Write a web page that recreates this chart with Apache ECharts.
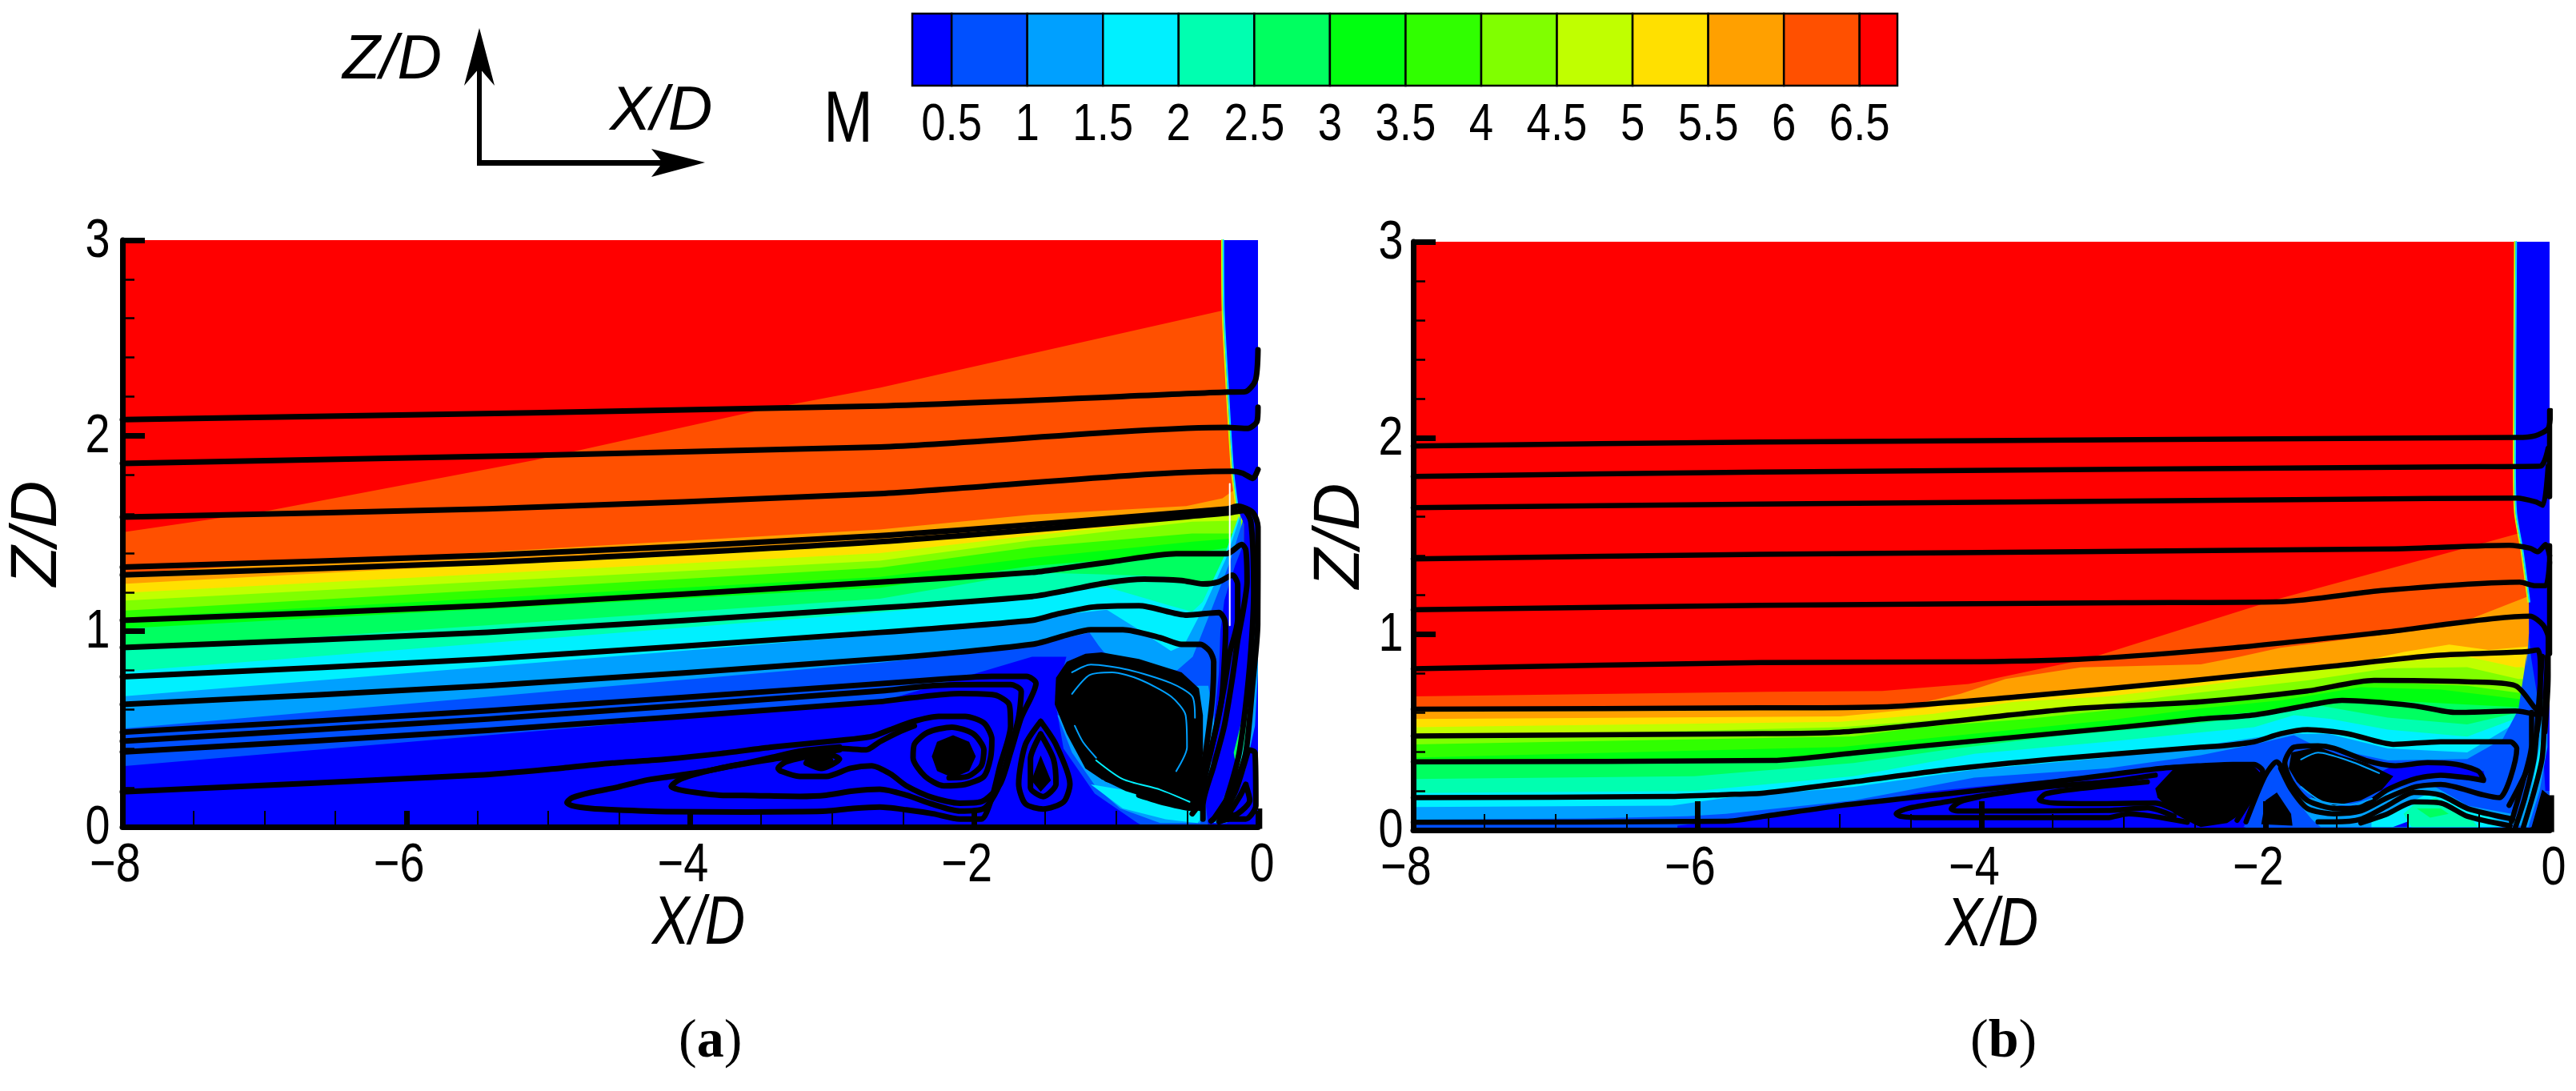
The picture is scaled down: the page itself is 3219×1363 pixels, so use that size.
<!DOCTYPE html>
<html>
<head>
<meta charset="utf-8">
<script src="https://cdn.jsdelivr.net/npm/echarts@6/dist/echarts.min.js"></script>
<style>
html, body { margin: 0; background: #fff; }
#main { width: 3219px; height: 1363px; }
</style>
</head>
<body>
<div id="main"></div>
<script>
// tick labels
var xTicks = [-8, -6, -4, -2, 0];
var zTicks = [0, 1, 2, 3];

// colour bar
var cbarEdges = [0.24, 0.5, 1, 1.5, 2, 2.5, 3, 3.5, 4, 4.5, 5, 5.5, 6, 6.5, 6.75];
var cbarTicks = [0.5, 1, 1.5, 2, 2.5, 3, 3.5, 4, 4.5, 5, 5.5, 6, 6.5];
var cbarColors = ['#0000ff', '#0050ff', '#00a0ff', '#00f0ff', '#00ffb0', '#00ff60', '#00ff10',
                  '#30ff00', '#80ff00', '#c0ff00', '#ffe000', '#ffa000', '#ff5000', '#ff0000'];

// panel (a): Mach contours [x/D, z/D], highest first
var aM65 = [[-8,1.506],[-7.01,1.612],[-5.1,1.874],[-3.52,2.128],[-2.66,2.246],[-0.25,2.64],[-0.1,2.64]];
var aM60 = [[-8,1.297],[-2.665,1.52],[-1.592,1.596],[-0.505,1.64],[-0.25,1.68],[-0.18,1.717],[-0.1,1.717]];
var aM55 = [[-8,1.242],[-2.665,1.45],[-1.592,1.526],[-0.5,1.6],[-0.16,1.625],[-0.1,1.625]];
var aM50 = [[-8,1.196],[-2.665,1.4],[-1.592,1.49],[-0.5,1.575],[-0.15,1.6],[-0.1,1.6]];
var aM45 = [[-8,1.156],[-2.665,1.361],[-1.592,1.465],[-0.463,1.56],[-0.16,1.565],[-0.1,1.565]];
var aM40 = [[-8,1.105],[-2.665,1.325],[-1.592,1.43],[-0.463,1.5],[-0.1,1.5]];
var aM35 = [[-8,1.068],[-2.665,1.278],[-1.592,1.375],[-0.463,1.458],[-0.1,1.48]];
var aM30 = [[-8,1.014],[-2.665,1.223],[-1.592,1.334],[-0.463,1.4],[-0.1,1.44]];
var aM25 = [[-8,0.904],[-2.665,1.166],[-1.592,1.3],[-1.06,1.29],[-0.65,1.28],[-0.37,1.24],[-0.1,1.24]];
var aM20 = [[-8,0.794],[-2.665,1.097],[-1.592,1.17],[-1.31,1.21],[-1.065,1.226],[-0.8,1.17],[-0.613,1.13],[-0.463,1.1],[-0.39,1.15],[-0.24,1.38],[-0.135,1.59]];
var aM15 = [[-8,0.667],[-2.665,0.982],[-1.592,1.068],[-1.065,1.11],[-0.839,1.008],[-0.613,0.899],[-0.52,0.93],[-0.37,1.14],[-0.22,1.38],[-0.12,1.6]];
var aM10 = [[-8,0.502],[-2.665,0.839],[-1.592,0.926],[-1.187,0.994],[-1.122,0.926],[-1.084,0.892],[-0.85,0.83],[-0.57,0.8],[-0.46,0.87],[-0.35,1.07],[-0.2,1.35],[-0.1,1.58]];
var aM05 = [[-8,0.31],[-2.665,0.638],[-1.592,0.87],[-1.35,0.87],[-1.43,0.65],[-1.37,0.4],[-1.15,0.17],[-0.85,0.02],[-0.8,0]];
var aShock = [[-0.248,3],[0,3],[0,1.55],[-0.1,1.55],[-0.14,1.62],[-0.18,1.827],[-0.216,2.247],[-0.245,2.64]];
var aWall = [[0,1.601],[-0.1,1.6],[-0.1,1.45],[-0.162,1.335],[-0.237,1.158],[-0.265,1],[-0.275,0.79],[-0.312,0.517],[-0.388,0.244],[-0.35,0],[0,0]];
var aCres15 = [[-1.413,0.571],[-1.31,0.38],[-1.14,0.203],[-0.971,0.094],[-0.689,0.019],[-0.406,0.019],[-0.34,0.244],[-0.303,0.517],[-0.35,0.721],[-0.425,0.721],[-1.027,0.517]];
var aCres20 = [[-1.178,0.217],[-0.952,0.094],[-0.651,0.039],[-0.425,0.019],[-0.369,0.08],[-0.463,0.094],[-0.839,0.176]];
var aJet15 = [[-0.312,0.019],[-0.19,0.244],[-0.096,0.544],[-0.049,0.844],[-0.026,1.035],[0,1.035],[0,0.79],[-0.021,0.517],[-0.086,0.299],[-0.218,0.019]];
var aJet20 = [[-0.284,0.019],[-0.18,0.23],[-0.096,0.517],[-0.039,0.844],[-0.021,0.721],[-0.058,0.462],[-0.133,0.258],[-0.237,0.019]];
var aJet25 = [[-0.265,0.026],[-0.162,0.258],[-0.086,0.517],[-0.039,0.762],[-0.064,0.517],[-0.133,0.312],[-0.246,0.026]];
var aJet30 = [[-0.171,0.38],[-0.124,0.517],[-0.096,0.626],[-0.105,0.517],[-0.162,0.34]];
var aCoreBig = [[-1.103,0.892],[-0.839,0.858],[-0.538,0.79],[-0.416,0.708],[-0.388,0.571],[-0.388,0.38],[-0.416,0.176],[-0.463,0.094],[-0.651,0.121],[-0.933,0.183],[-1.103,0.244],[-1.216,0.299],[-1.347,0.476],[-1.432,0.626],[-1.423,0.762],[-1.347,0.844],[-1.216,0.885]];
var aCoreMid = [[-2.148,0.469],[-2.035,0.435],[-1.988,0.36],[-2.035,0.285],[-2.148,0.251],[-2.261,0.285],[-2.298,0.36],[-2.261,0.435]];
var aCoreTear = [[-1.531,0.365],[-1.459,0.237],[-1.531,0.179],[-1.596,0.237]];
var aCoreSmall = [[-3.192,0.347],[-3.117,0.374],[-3.004,0.367],[-2.985,0.326],[-3.098,0.306],[-3.174,0.319]];
var aCorner = [[0,0.094],[0.03,0.094],[0.03,-0.01],[0,-0.01]];

// panel (a): streamlines
var aS1 = [[-8,2.082],[-2.665,2.152],[-0.216,2.223],[-0.09,2.225],[-0.018,2.283],[0,2.439]];
var aS2 = [[-8,1.858],[-2.665,1.942],[-0.216,2.042],[-0.072,2.037],[-0.007,2.073],[0,2.146]];
var aS3 = [[-8,1.584],[-5.43,1.626],[-2.665,1.704],[-0.18,1.818],[-0.108,1.808],[-0.036,1.781],[0,1.827]];
var aS4 = [[-8,1.328],[-5.43,1.388],[-2.665,1.489],[-0.216,1.626],[-0.144,1.64],[-0.036,1.607],[0,1.534],[-0.002,1.035],[-0.039,0.721],[-0.086,0.38],[-0.162,0.217],[-0.237,0.121],[-0.312,0.04]];
var aS5 = [[-8,1.288],[-5.43,1.352],[-2.665,1.458],[-0.216,1.604],[-0.1,1.618],[-0.05,1.56],[-0.03,1.2],[-0.05,0.9],[-0.09,0.6],[-0.14,0.35],[-0.25,0.09],[-0.33,0.03]];
var aS6 = [[-8,1.056],[-5.43,1.132],[-2.665,1.251],[-1.592,1.301],[-1.366,1.322],[-1.027,1.356],[-0.576,1.397],[-0.218,1.397],[-0.115,1.444],[-0.086,1.417],[-0.077,1.253],[-0.105,1.103],[-0.143,0.953],[-0.18,0.762],[-0.237,0.517],[-0.312,0.312],[-0.388,0.108],[-0.388,0.04]];
var aS7 = [[-8,0.917],[-5.43,0.995],[-2.665,1.12],[-1.592,1.178],[-1.366,1.206],[-1.046,1.25],[-0.802,1.267],[-0.538,1.26],[-0.388,1.242],[-0.275,1.253],[-0.18,1.287],[-0.143,1.24],[-0.143,1.062],[-0.2,0.885],[-0.237,0.721],[-0.293,0.517],[-0.369,0.271],[-0.425,0.108],[-0.463,0.067]];
var aS8 = [[-8,0.767],[-5.43,0.858],[-2.665,0.994],[-1.592,1.056],[-1.404,1.09],[-1.159,1.124],[-0.839,1.131],[-0.5,1.083],[-0.275,1.096],[-0.237,1.062],[-0.228,1.008],[-0.237,0.844],[-0.256,0.653],[-0.312,0.449],[-0.388,0.244],[-0.463,0.094],[-0.651,0.121],[-0.839,0.162]];
var aS9 = [[-8,0.626],[-5.43,0.721],[-2.665,0.858],[-1.592,0.933],[-1.347,0.981],[-1.178,1.008],[-0.952,1.008],[-0.689,0.967],[-0.538,0.933],[-0.406,0.933],[-0.34,0.899],[-0.312,0.844],[-0.322,0.653],[-0.369,0.38],[-0.416,0.176],[-0.397,0.094],[-0.538,0.114],[-0.839,0.19],[-1.065,0.244]];
var aS10 = [[-8,0.484],[-5.43,0.593],[-2.741,0.728],[-2.477,0.742],[-2.214,0.756],[-1.875,0.769],[-1.63,0.769],[-1.564,0.735],[-1.668,0.558],[-1.743,0.381],[-1.818,0.217],[-1.95,0.128],[-2.101,0.121],[-2.289,0.149],[-2.477,0.21],[-2.59,0.271],[-2.722,0.312],[-2.872,0.299],[-3.042,0.258],[-3.23,0.258],[-3.362,0.285],[-3.381,0.299],[-3.325,0.333],[-3.137,0.367],[-2.948,0.401],[-2.76,0.394],[-2.665,0.435],[-2.515,0.49],[-2.421,0.517]];
var aS11 = [[-8,0.438],[-5.43,0.551],[-2.628,0.697],[-2.289,0.722],[-1.95,0.728],[-1.743,0.728],[-1.668,0.694],[-1.687,0.558],[-1.762,0.353],[-1.837,0.19],[-1.931,0.094],[-2.101,0.081],[-2.289,0.115],[-2.477,0.162],[-2.665,0.192],[-2.854,0.183],[-3.042,0.162],[-3.23,0.156],[-3.551,0.16],[-3.795,0.162],[-3.965,0.176],[-4.078,0.19],[-4.134,0.206],[-4.087,0.237],[-3.983,0.265],[-3.795,0.299],[-3.607,0.326],[-3.419,0.356],[-3.23,0.387],[-2.948,0.408]];
var aS12 = [[-8,0.383],[-5.43,0.493],[-2.665,0.64],[-2.44,0.66],[-2.101,0.681],[-1.856,0.674],[-1.753,0.626],[-1.743,0.517],[-1.818,0.312],[-1.875,0.149],[-1.95,0.04],[-2.101,0.04],[-2.289,0.067],[-2.477,0.087],[-2.665,0.101],[-2.854,0.094],[-3.042,0.081],[-3.23,0.078],[-3.607,0.076],[-4.172,0.078],[-4.529,0.087],[-4.699,0.094],[-4.83,0.108],[-4.868,0.124],[-4.83,0.149],[-4.699,0.176],[-4.51,0.203],[-4.322,0.237],[-4.134,0.258],[-3.889,0.285],[-3.701,0.312],[-3.419,0.346],[-3.137,0.374],[-2.948,0.394]];
var aS13 = [[-8,0.179],[-5.489,0.265],[-4.924,0.299],[-4.548,0.326],[-4.172,0.346],[-3.795,0.374],[-3.419,0.408],[-2.948,0.442],[-2.722,0.462],[-2.59,0.497],[-2.44,0.537],[-2.251,0.565],[-2.063,0.565],[-1.931,0.531],[-1.875,0.449],[-1.884,0.353],[-1.931,0.258],[-2.063,0.217],[-2.214,0.21],[-2.345,0.258],[-2.43,0.353],[-2.421,0.422],[-2.327,0.483],[-2.157,0.51],[-2.007,0.476],[-1.931,0.394],[-1.95,0.312],[-2.044,0.258],[-2.176,0.251]];
var aTearOuter = [[-1.531,0.539],[-1.423,0.42],[-1.325,0.219],[-1.369,0.128],[-1.513,0.091],[-1.639,0.118],[-1.686,0.219],[-1.639,0.42],[-1.531,0.539]];
var aTearInner = [[-1.531,0.475],[-1.441,0.347],[-1.423,0.219],[-1.513,0.155],[-1.603,0.201],[-1.603,0.347],[-1.531,0.475]];
var aSmallRing = [[-3.183,0.326],[-3.079,0.299],[-2.948,0.347],[-3.042,0.374],[-3.155,0.353],[-3.183,0.326]];
var aCornerOuter = [[-0.068,0.394],[-0.021,0.38],[-0.015,0.108],[-0.086,0.04],[-0.199,0.04],[-0.275,0.026],[-0.162,0.176],[-0.068,0.394]];
var aCornerInner = [[-0.086,0.217],[-0.058,0.135],[-0.143,0.067],[-0.218,0.053],[-0.124,0.162],[-0.086,0.217]];
// thin coloured gaps between the packed rings of the big vortex, and the seam in the picture
var aGap1 = [[-1.31,0.68],[-1.187,0.776],[-1.027,0.79],[-0.839,0.755],[-0.613,0.667],[-0.51,0.571],[-0.5,0.408],[-0.576,0.285]];
var aGap2 = [[-1.31,0.79],[-1.178,0.83],[-0.914,0.803],[-0.613,0.735],[-0.463,0.667],[-0.444,0.558]];
var aGap3 = [[-1.14,0.34],[-0.952,0.244],[-0.689,0.19],[-0.482,0.128]];
var aGap4 = [[-1.291,0.517],[-1.234,0.435],[-1.14,0.353]];
var aSeam = [[-0.199,1.754],[-0.199,1.03]];
var aShockA = [[-0.254,3],[-0.25,2.64],[-0.222,2.247],[-0.186,1.827],[-0.15,1.62]];
var aShockB = [[-0.244,3],[-0.24,2.64],[-0.211,2.247],[-0.175,1.827],[-0.14,1.62]];

// panel (b): Mach contours
var bM65 = [[-8,0.682],[-5.5,0.705],[-4.7,0.709],[-4.09,0.745],[-3.25,0.873],[-1.895,1.182],[-0.687,1.419],[-0.23,1.51],[-0.14,1.51]];
var bM60 = [[-8,0.607],[-4.992,0.614],[-4.43,0.648],[-4.147,0.695],[-3.83,0.77],[-3.3,0.83],[-2.456,0.845],[-2.17,0.886],[-1.895,0.93],[-0.687,1.04],[-0.157,1.19],[-0.1,1.19]];
var bM55 = [[-8,0.566],[-4.992,0.58],[-4.43,0.62],[-3.79,0.682],[-3.114,0.725],[-2.457,0.77],[-1.53,0.827],[-1.02,0.909],[-0.706,0.946],[-0.43,0.918],[-0.155,0.936]];
var bM50 = [[-8,0.525],[-4.992,0.552],[-4.335,0.593],[-3.77,0.654],[-3.114,0.682],[-2.457,0.736],[-1.705,0.811],[-0.954,0.865],[-0.58,0.885],[-0.24,0.831],[-0.18,0.831]];
var bM45 = [[-8,0.471],[-4.992,0.525],[-4.24,0.566],[-3.3,0.627],[-2.457,0.702],[-1.705,0.763],[-1.14,0.825],[-0.58,0.831],[-0.22,0.77],[-0.18,0.77]];
var bM40 = [[-8,0.437],[-4.9,0.478],[-4.43,0.525],[-3.68,0.566],[-2.457,0.661],[-1.705,0.709],[-1.235,0.756],[-0.58,0.736],[-0.22,0.7],[-0.18,0.7]];
var bM35 = [[-8,0.369],[-4.992,0.423],[-4.24,0.478],[-3.114,0.559],[-2.457,0.62],[-1.893,0.661],[-1.33,0.729],[-0.766,0.716],[-0.22,0.668],[-0.18,0.668]];
var bM30 = [[-8,0.335],[-5.47,0.362],[-4.9,0.382],[-4.05,0.464],[-3.114,0.525],[-2.457,0.58],[-1.893,0.613],[-1.48,0.668],[-0.954,0.654],[-0.22,0.627],[-0.18,0.627]];
var bM25 = [[-8,0.26],[-6.02,0.274],[-4.9,0.342],[-4.24,0.41],[-3.49,0.478],[-2.457,0.546],[-2.08,0.58],[-1.61,0.634],[-1.14,0.573],[-0.58,0.539],[-0.22,0.6],[-0.18,0.64]];
var bM20 = [[-8,0.189],[-6.02,0.199],[-4.9,0.274],[-4.05,0.389],[-3.114,0.45],[-2.457,0.498],[-2.08,0.525],[-1.8,0.586],[-1.54,0.566],[-1.14,0.512],[-0.58,0.477],[-0.22,0.573],[-0.17,0.7]];
var bM15 = [[-8,0.117],[-6.18,0.124],[-5.79,0.165],[-4.9,0.22],[-4.05,0.308],[-3.114,0.369],[-2.457,0.43],[-1.893,0.491],[-1.555,0.491],[-1.14,0.416],[-0.58,0.396],[-0.3,0.518],[-0.2,0.573],[-0.165,0.8]];
var bM10 = [[-8,0.053],[-6.79,0.059],[-6.07,0.07],[-5.8,0.083],[-4.9,0.151],[-4.05,0.267],[-3.114,0.314],[-2.457,0.382],[-2.08,0.437],[-1.8,0.484],[-1.67,0.437],[-1.14,0.355],[-0.58,0.362],[-0.33,0.464],[-0.22,0.614],[-0.16,0.9]];
var bM05 = [[-6.14,0.022],[-5.98,0.036],[-5.53,0.07],[-4.9,0.124],[-4.43,0.192],[-3.68,0.246],[-2.83,0.301],[-2.457,0.335],[-2.23,0.342],[-2.06,0.342],[-2.02,0.28],[-2.1,0.1],[-2.15,0]];
var bWallBase = [[-0.26,0],[-0.2,0.55],[-0.155,0.9],[-0.146,1],[-0.1,1],[0,0.2],[0,0]];
var bShock = [[-0.24,3],[0,3],[0,0.2],[-0.03,0.2],[-0.05,0.45],[-0.09,0.7],[-0.13,0.88],[-0.145,0.98],[-0.146,1.164],[-0.193,1.419],[-0.24,1.62],[-0.248,1.893]];
var bTube05 = [[-1.329,0.246],[-1.104,0.328],[-0.86,0.348],[-0.465,0.301],[-0.447,0.246],[-0.672,0.26],[-0.86,0.274],[-1.066,0.219],[-1.235,0.192]];
var bWave15 = [[-1.836,0.151],[-1.611,0.015],[-0.259,0.015],[-0.268,0.083],[-0.578,0.124],[-0.803,0.219],[-0.954,0.233],[-1.141,0.192],[-1.423,0.11],[-1.667,0.165]];
var bWave20 = [[-1.254,0.056],[-1.028,0.124],[-0.841,0.192],[-0.578,0.11],[-0.334,0.043],[-0.334,0.015],[-1.254,0.015]];
var bWave25 = [[-1.028,0.083],[-0.954,0.131],[-0.803,0.165],[-0.578,0.083],[-0.503,0.015],[-0.972,0.015]];
var bWave30 = [[-0.935,0.11],[-0.766,0.11],[-0.71,0.083],[-0.841,0.063]];
var bPocket05 = [[-1.104,0.015],[-1,0.043],[-1,0.015]];
var bUnder10 = [[-1.911,0.274],[-1.799,0.165],[-1.63,0.015],[-2.156,0.015],[-2.024,0.151]];
var bJet15 = [[-0.259,0.029],[-0.155,0.206],[-0.09,0.423],[-0.052,0.668],[-0.015,0.668],[-0.015,0.423],[-0.07,0.2],[-0.15,0.015]];
var bJet20 = [[-0.2,0.015],[-0.127,0.206],[-0.071,0.423],[-0.033,0.6],[-0.015,0.587],[-0.033,0.423],[-0.088,0.22],[-0.165,0.042]];
var bCoreLeft = [[-2.776,0.212],[-2.644,0.314],[-2.456,0.335],[-2.23,0.335],[-2.08,0.325],[-2.03,0.287],[-2.08,0.192],[-2.17,0.083],[-2.27,0.036],[-2.456,0.015],[-2.49,0.026],[-2.64,0.083],[-2.76,0.165]];
var bCoreBig = [[-1.817,0.396],[-1.63,0.423],[-1.48,0.383],[-1.29,0.342],[-1.1,0.274],[-1.18,0.206],[-1.33,0.151],[-1.517,0.124],[-1.667,0.165],[-1.78,0.246],[-1.836,0.314]];
var bCoreLow = [[-2.03,0.03],[-2,0.151],[-1.92,0.192],[-1.82,0.083],[-1.81,0.022]];
var bCorner = [[-0.127,0.015],[-0.052,0.206],[-0.005,0.178],[0.032,0.178],[0.032,-0.01],[-0.24,-0.01]];

// panel (b): streamlines
var bS1 = [[-8,1.958],[-5.555,1.979],[-0.23,2.002],[-0.1,2.011],[-0.01,2.048],[0.008,2.139]];
var bS2 = [[-8,1.803],[-5.555,1.826],[-0.486,1.853],[-0.065,1.856],[-0.01,1.948]];
var bS3 = [[-8,1.644],[-5.555,1.662],[-1.456,1.687],[-0.23,1.693],[-0.1,1.674],[-0.047,1.656],[-0.01,1.856]];
var bS4 = [[-8,1.383],[-5.555,1.406],[-1.09,1.434],[-0.285,1.452],[-0.138,1.437],[-0.083,1.419],[-0.028,1.456],[0,1.4]];
var bS5 = [[-8,1.123],[-5.555,1.146],[-2.993,1.159],[-1.895,1.164],[-1.163,1.222],[-0.211,1.264],[-0.1,1.246],[-0.028,1.246],[0,1.365]];
var bS6 = [[-8,0.822],[-5.555,0.854],[-4.018,0.858],[-3.249,0.873],[-2.261,0.927],[-1.163,1.009],[-0.138,1.091],[-0.047,1.046],[-0.01,0.982],[-0.01,0.782],[-0.033,0.5]];
var bS7 = [[-8,0.616],[-5.555,0.623],[-4.64,0.63],[-3.725,0.681],[-2.627,0.754],[-1.53,0.836],[-0.797,0.891],[-0.175,0.909],[-0.083,0.918],[-0.065,0.836],[-0.065,0.65],[-0.138,0.344],[-0.285,0.126]];
var bS8 = [[-8,0.48],[-5.67,0.491],[-5,0.499],[-3.359,0.618],[-2.456,0.654],[-1.705,0.709],[-1.235,0.763],[-0.58,0.756],[-0.24,0.736],[-0.108,0.627],[-0.065,0.59]];
var bS9 = [[-8,0.348],[-5.47,0.355],[-4.9,0.393],[-4.457,0.426],[-2.993,0.526],[-2.456,0.566],[-2.08,0.587],[-1.61,0.648],[-1.46,0.661],[-0.954,0.634],[-0.67,0.6],[-0.24,0.607],[-0.102,0.59]];
var bS10 = [[-8,0.165],[-6.21,0.171],[-5.8,0.181],[-5.53,0.189],[-4.9,0.246],[-4.24,0.308],[-3.49,0.362],[-2.457,0.423],[-2.3,0.43],[-2.08,0.45],[-1.893,0.491],[-1.705,0.512],[-1.42,0.491],[-1.1,0.437],[-0.766,0.45],[-0.277,0.45],[-0.231,0.416],[-0.353,0.165],[-0.465,0.179],[-0.766,0.233],[-0.954,0.219],[-1.141,0.165],[-1.329,0.097],[-1.517,0.083],[-1.705,0.11],[-1.817,0.206],[-1.893,0.315]];
var bS11 = [[-8,0.04],[-5.8,0.045],[-5.53,0.07],[-4.992,0.125],[-4.24,0.185],[-3.49,0.246],[-2.74,0.314],[-2.457,0.328],[-2.23,0.335],[-2.08,0.335],[-2.02,0.3],[-2.08,0.192],[-2.2,0.05]];
var bTail1 = [[-2.55,0.04],[-2.964,0.083],[-3.114,0.063],[-4.429,0.063],[-4.57,0.07],[-4.6,0.083],[-4.52,0.11],[-4.24,0.145],[-4.015,0.172],[-3.546,0.22],[-3.114,0.246],[-2.776,0.28]];
var bTail2 = [[-2.644,0.07],[-2.83,0.113],[-3.114,0.1],[-4.166,0.097],[-4.213,0.108],[-4.147,0.145],[-4.015,0.169]];
var bTail3 = [[-2.588,0.083],[-2.776,0.138],[-3.114,0.135],[-3.49,0.138],[-3.593,0.154],[-3.546,0.185],[-3.302,0.212],[-2.832,0.246]];
var bRing = [[-0.465,0.26],[-0.503,0.301],[-0.653,0.335],[-0.86,0.344],[-1.085,0.328],[-1.292,0.355],[-1.517,0.417],[-1.63,0.43],[-1.799,0.423],[-1.864,0.342],[-1.817,0.246],[-1.705,0.151],[-1.498,0.11],[-1.329,0.117],[-1.141,0.206],[-0.954,0.26],[-0.766,0.28],[-0.578,0.267],[-0.465,0.253]];
var bWaveLine1 = [[-0.259,0.056],[-0.578,0.11],[-0.766,0.178],[-0.954,0.192],[-1.141,0.124],[-1.329,0.056],[-1.517,0.042],[-1.63,0.042]];
var bWaveLine2 = [[-0.278,0.022],[-0.578,0.07],[-0.766,0.138],[-0.954,0.144],[-1.141,0.083],[-1.329,0.036]];
var bPeak = [[-2.137,0.042],[-2.005,0.274],[-1.921,0.348],[-1.855,0.287]];
var bWall1 = [[-0.127,0.6],[-0.127,0.437],[-0.193,0.233],[-0.268,0.043]];
var bWall2 = [[-0.052,0.886],[-0.08,0.614],[-0.108,0.369],[-0.174,0.165],[-0.24,0.015]];
var bWall3 = [[-0.015,0.886],[-0.033,0.614],[-0.052,0.369],[-0.108,0.2],[-0.184,0.015]];
var bWall4 = [[0,2.139],[0,1.7]];
var bWall5 = [[0,1.45],[0,0.9]];
var bGap1 = [[-1.75,0.36],[-1.63,0.395],[-1.4,0.35],[-1.2,0.29]];
var bGap2 = [[-1.75,0.22],[-1.6,0.145],[-1.4,0.13],[-1.25,0.16]];
var bShockA = [[-0.245,3],[-0.253,1.893],[-0.245,1.62],[-0.198,1.419],[-0.151,1.164]];
var bShockB = [[-0.235,3],[-0.243,1.893],[-0.235,1.62],[-0.188,1.419],[-0.141,1.164]];

var aContours = [aM65, aM60, aM55, aM50, aM45, aM40, aM35, aM30, aM25, aM20, aM15, aM10, aM05];
var bContours = [bM65, bM60, bM55, bM50, bM45, bM40, bM35, bM30, bM25, bM20, bM15, bM10, bM05];
var aRed = [[-8,0],[-8,3],[-0.1,3],[-0.1,0]];
var bRed = [[-8,0],[-8,3],[-0.1,3],[-0.1,0]];

var SANS = 'Liberation Sans', SERIF = 'Liberation Serif';
// the figure's labels are squeezed sideways and no narrow face is installed
var SQUEEZE = 0.82;

// contour M is the top edge of the colour band just below M, painted from high to low
function bandPolys(contours, red) {
    var out = [{ pts: red, fill: cbarColors[13] }];
    contours.forEach(function (c, i) {
        var last = c[c.length - 1], first = c[0];
        out.push({ pts: c.concat([[last[0], 0], [first[0], 0]]), fill: cbarColors[12 - i] });
    });
    return out;
}

function polySeries(polys, idx) {
    return {
        type: 'custom', coordinateSystem: 'cartesian2d', xAxisIndex: idx, yAxisIndex: idx,
        silent: true, z: 2, animation: false,
        data: polys.map(function (p) { return p.pts[0]; }),
        renderItem: function (params, api) {
            var p = polys[params.dataIndex];
            return {
                type: 'polygon',
                shape: { points: p.pts.map(function (q) { return api.coord(q); }) },
                style: { fill: p.fill }
            };
        }
    };
}

function lineSeries(data, idx, color, width) {
    return {
        type: 'line', xAxisIndex: idx, yAxisIndex: idx, data: data, smooth: 0.25, clip: false,
        showSymbol: false, silent: true, z: 4, animation: false,
        lineStyle: { color: color, width: width, cap: 'round', join: 'round' }
    };
}

// tick labels placed from the axis scale, squeezed like the originals
function labelSeries(values, idx, dim, dx, dy, size, scale, text) {
    return {
        type: 'custom', coordinateSystem: 'cartesian2d', xAxisIndex: idx, yAxisIndex: idx,
        silent: true, animation: false, z: 8, clip: false,
        data: values.map(function (v) { return dim === 'x' ? [v, 0] : [-8, v]; }),
        renderItem: function (params, api) {
            var v = values[params.dataIndex];
            var p = api.coord(dim === 'x' ? [v, 0] : [-8, v]);
            return {
                type: 'text', x: p[0] + dx(v), y: p[1] + dy, scaleX: scale,
                style: { text: text(v), fontFamily: SANS, fontSize: size, fill: '#000', align: 'center', verticalAlign: 'middle' }
            };
        }
    };
}
function signed(v) { return String(v).replace('-', '\u2212'); }
function xShift(v) { return v < 0 ? -9 : 5; }

var aPolys = bandPolys(aContours, aRed).concat([
    { pts: aShock, fill: '#0000ff' }, { pts: aWall, fill: '#0000ff' },
    { pts: aCres15, fill: '#00a0ff' }, { pts: aCres20, fill: '#00f0ff' },
    { pts: aJet15, fill: '#00a0ff' }, { pts: aJet20, fill: '#00f0ff' },
    { pts: aJet25, fill: '#00ffb0' }, { pts: aJet30, fill: '#00ff60' },
    { pts: aCoreMid, fill: '#000' }, { pts: aCoreTear, fill: '#000' },
    { pts: aCoreSmall, fill: '#000' }, { pts: aCorner, fill: '#000' }
]);
var bPolys = bandPolys(bContours, bRed).concat([
    { pts: bWallBase, fill: '#0050ff' },
    { pts: bShock, fill: '#0000ff' }, { pts: bTube05, fill: '#0000ff' },
    { pts: bWave15, fill: '#00a0ff' }, { pts: bWave20, fill: '#00f0ff' },
    { pts: bWave25, fill: '#00ffb0' }, { pts: bWave30, fill: '#00ff60' },
    { pts: bPocket05, fill: '#0000ff' }, { pts: bUnder10, fill: '#0050ff' },
    { pts: bJet15, fill: '#00a0ff' }, { pts: bJet20, fill: '#00f0ff' },
    { pts: bCoreLeft, fill: '#000' }, { pts: bCoreLow, fill: '#000' }, { pts: bCorner, fill: '#000' }
]);
// the packed vortex core sits above the lines except for its thin coloured gaps
var aCorePolys = [{ pts: aCoreBig, fill: '#000' }];
var bCorePolys = [{ pts: bCoreBig, fill: '#000' }];

var aLines = [aS1, aS2, aS3, aS4, aS5, aS6, aS7, aS8, aS9, aS10, aS11, aS12, aS13,
              aTearOuter, aTearInner, aSmallRing, aCornerOuter, aCornerInner];
var bLines = [bS1, bS2, bS3, bS4, bS5, bS6, bS7, bS8, bS9, bS10, bS11, bTail1, bTail2, bTail3,
              bRing, bWaveLine1, bWaveLine2, bPeak, bWall1, bWall2, bWall3, bWall4, bWall5];

var series = [polySeries(aPolys, 0), polySeries(bPolys, 1)];
series.push(lineSeries(aShockA, 0, '#c0ff00', 2), lineSeries(aShockB, 0, '#00e0ff', 2));
series.push(lineSeries(bShockA, 1, '#c0ff00', 2), lineSeries(bShockB, 1, '#00e0ff', 2));
aLines.forEach(function (d) { series.push(lineSeries(d, 0, '#000', 7)); });
bLines.forEach(function (d) { series.push(lineSeries(d, 1, '#000', 6.5)); });
var aCore = polySeries(aCorePolys, 0); aCore.z = 5;
var bCore = polySeries(bCorePolys, 1); bCore.z = 5;
series.push(aCore, bCore);
[[aGap1, '#00a0ff'], [aGap2, '#00a0ff'], [aGap3, '#00f0ff'], [aGap4, '#00a0ff']].forEach(function (g) {
    var s = lineSeries(g[0], 0, g[1], 2); s.z = 6; series.push(s);
});
[[bGap1, '#00a0ff'], [bGap2, '#00a0ff']].forEach(function (g) {
    var s = lineSeries(g[0], 1, g[1], 2); s.z = 6; series.push(s);
});
var seam = lineSeries(aSeam, 0, '#fff', 2); seam.smooth = false; seam.z = 6; series.push(seam);

// colour bar cells
series.push({
    type: 'custom', coordinateSystem: 'cartesian2d', xAxisIndex: 2, yAxisIndex: 2,
    silent: true, animation: false,
    data: cbarColors.map(function (c, i) { return [cbarEdges[i], cbarEdges[i + 1]]; }),
    renderItem: function (params, api) {
        var a = api.coord([api.value(0), 0]), b = api.coord([api.value(1), 1]);
        return {
            type: 'rect',
            shape: { x: a[0], y: b[1], width: b[0] - a[0], height: a[1] - b[1] },
            style: { fill: cbarColors[params.dataIndex], stroke: '#000', lineWidth: 2.5 }
        };
    }
});

// tick labels
series.push(labelSeries(xTicks, 0, 'x', xShift, 49, 68, SQUEEZE, signed));
series.push(labelSeries(xTicks, 1, 'x', xShift, 49, 68, SQUEEZE, signed));
series.push(labelSeries(zTicks, 0, 'y', function () { return -31; }, 2, 68, SQUEEZE, String));
series.push(labelSeries(zTicks, 1, 'y', function () { return -28; }, 2, 68, SQUEEZE, String));
series.push({
    type: 'custom', coordinateSystem: 'cartesian2d', xAxisIndex: 2, yAxisIndex: 2,
    silent: true, animation: false, clip: false,
    data: cbarTicks.map(function (v) { return [v, 0]; }),
    renderItem: function (params, api) {
        var p = api.coord([cbarTicks[params.dataIndex], 0]);
        return {
            type: 'text', x: p[0], y: p[1] + 50, scaleX: 0.84,
            style: { text: String(cbarTicks[params.dataIndex]), fontFamily: SANS, fontSize: 65, fill: '#000', align: 'center', verticalAlign: 'middle' }
        };
    }
});

function xAxisOf(idx, majorLen) {
    return {
        type: 'value', gridIndex: idx, min: -8, max: 0, interval: 2, z: 10,
        axisLine: { onZero: false, lineStyle: { color: '#000', width: 7 } },
        axisTick: { inside: true, length: majorLen, lineStyle: { color: '#000', width: 7 } },
        minorTick: { show: true, splitNumber: 4, length: 20, lineStyle: { color: '#000', width: 2 } },
        splitLine: { show: false },
        axisLabel: { show: false }
    };
}
function yAxisOf(idx, gap) {
    return {
        type: 'value', gridIndex: idx, min: 0, max: 3, interval: 1, z: 10,
        axisLine: { onZero: false, lineStyle: { color: '#000', width: 7 } },
        axisTick: { inside: true, length: 28, lineStyle: { color: '#000', width: 7 } },
        minorTick: { show: true, splitNumber: 5, length: 15, lineStyle: { color: '#000', width: 2.5 } },
        splitLine: { show: false },
        axisLabel: { show: false },
        name: 'Z/D', nameLocation: 'middle', nameRotate: 90, nameGap: gap,
        nameTextStyle: { fontFamily: SANS, fontStyle: 'italic', fontSize: 82, color: '#000' }
    };
}
function squeezedText(text, x, y, size, style) {
    return {
        type: 'text', x: x, y: y, scaleX: SQUEEZE,
        style: { text: text, fontFamily: SANS, fontStyle: style, fontSize: size, fill: '#000', align: 'center', verticalAlign: 'middle' }
    };
}

var chart = echarts.init(document.getElementById('main'));
chart.setOption({
    backgroundColor: '#fff',
    animation: false,
    grid: [
        { left: 153, top: 300, width: 1419, height: 733 },
        { left: 1766, top: 302, width: 1420, height: 735 },
        { left: 1140, top: 17, width: 1231, height: 90 }
    ],
    xAxis: [
        xAxisOf(0, 20),
        xAxisOf(1, 36),
        {
            type: 'value', gridIndex: 2, min: cbarEdges[0], max: cbarEdges[cbarEdges.length - 1],
            axisLine: { show: false }, splitLine: { show: false }, axisTick: { show: false }, axisLabel: { show: false }
        }
    ],
    yAxis: [
        yAxisOf(0, 65), yAxisOf(1, 50),
        { type: 'value', gridIndex: 2, min: 0, max: 1, show: false }
    ],
    series: series,
    graphic: [
        { type: 'rect', shape: { x: 596, y: 70, width: 6, height: 136 }, style: { fill: '#000' } },
        { type: 'polygon', shape: { points: [[599, 35], [618, 107], [599, 85], [580, 107]] }, style: { fill: '#000' } },
        { type: 'rect', shape: { x: 596, y: 200, width: 240, height: 7 }, style: { fill: '#000' } },
        { type: 'polygon', shape: { points: [[881, 203], [814, 221], [828, 203], [814, 186]] }, style: { fill: '#000' } },
        { type: 'text', left: 428, top: 38, style: { text: 'Z/D', fontFamily: SANS, fontStyle: 'italic', fontSize: 77, fill: '#000' } },
        { type: 'text', left: 762, top: 102, style: { text: 'X/D', fontFamily: SANS, fontStyle: 'italic', fontSize: 77, fill: '#000' } },
        squeezedText('M', 1060, 152, 90, 'normal'),
        squeezedText('X/D', 873, 1155, 85, 'italic'),
        squeezedText('X/D', 2489, 1157, 85, 'italic'),
        { type: 'text', left: 848, top: 1268, style: { text: '({b|a})', fontFamily: SERIF, fontSize: 68, fill: '#000', rich: { b: { fontFamily: SERIF, fontWeight: 'bold', fontSize: 68 } } } },
        { type: 'text', left: 2462, top: 1268, style: { text: '({b|b})', fontFamily: SERIF, fontSize: 68, fill: '#000', rich: { b: { fontFamily: SERIF, fontWeight: 'bold', fontSize: 68 } } } }
    ]
});
</script>
</body>
</html>
